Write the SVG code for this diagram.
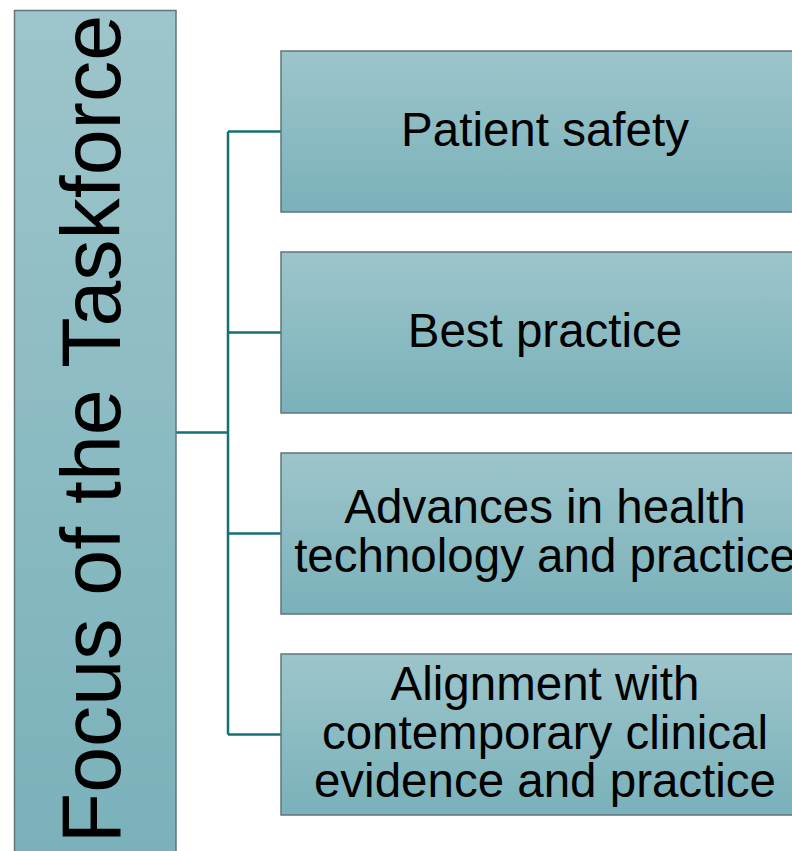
<svg xmlns="http://www.w3.org/2000/svg" width="792" height="851" viewBox="0 0 792 851">
<defs>
<linearGradient id="g" x1="0" y1="0" x2="0" y2="1">
<stop offset="0" stop-color="#9dc5cb"/>
<stop offset="1" stop-color="#7ab1ba"/>
</linearGradient>
<style>
.box{fill:url(#g);stroke:#627579;stroke-width:1.5}
.lbl{font-family:"Liberation Sans",Arial,sans-serif;font-size:47.5px;fill:#000;text-anchor:middle}
.conn{fill:none;stroke:#137077;stroke-width:2.5}
</style>
</defs>
<rect width="792" height="851" fill="#fff"/>
<g id="connectors">
<path class="conn" d="M176 432.5H228M228 131.5V734.5M228 131.5H281M228 332.5H281M228 533.5H281M228 734.5H281"/>
</g>
<g id="root">
<rect class="box" x="14.5" y="10.5" width="161.5" height="845"/>
<text class="lbl" style="font-size:82.5px" transform="translate(120 429) rotate(-90)">Focus of the Taskforce</text>
</g>
<g id="n1">
<rect class="box" x="281" y="51" width="528" height="161"/>
<text class="lbl" x="545" y="146">Patient safety</text>
</g>
<g id="n2">
<rect class="box" x="281" y="252" width="528" height="161"/>
<text class="lbl" x="545" y="347">Best practice</text>
</g>
<g id="n3">
<rect class="box" x="281" y="453" width="528" height="161"/>
<text class="lbl" x="545" y="522.5">Advances in health</text>
<text class="lbl" x="545" y="571.5">technology and practice</text>
</g>
<g id="n4">
<rect class="box" x="281" y="654" width="528" height="161"/>
<text class="lbl" x="545" y="700">Alignment with</text>
<text class="lbl" x="545" y="748.5">contemporary clinical</text>
<text class="lbl" x="545" y="797">evidence and practice</text>
</g>
</svg>
